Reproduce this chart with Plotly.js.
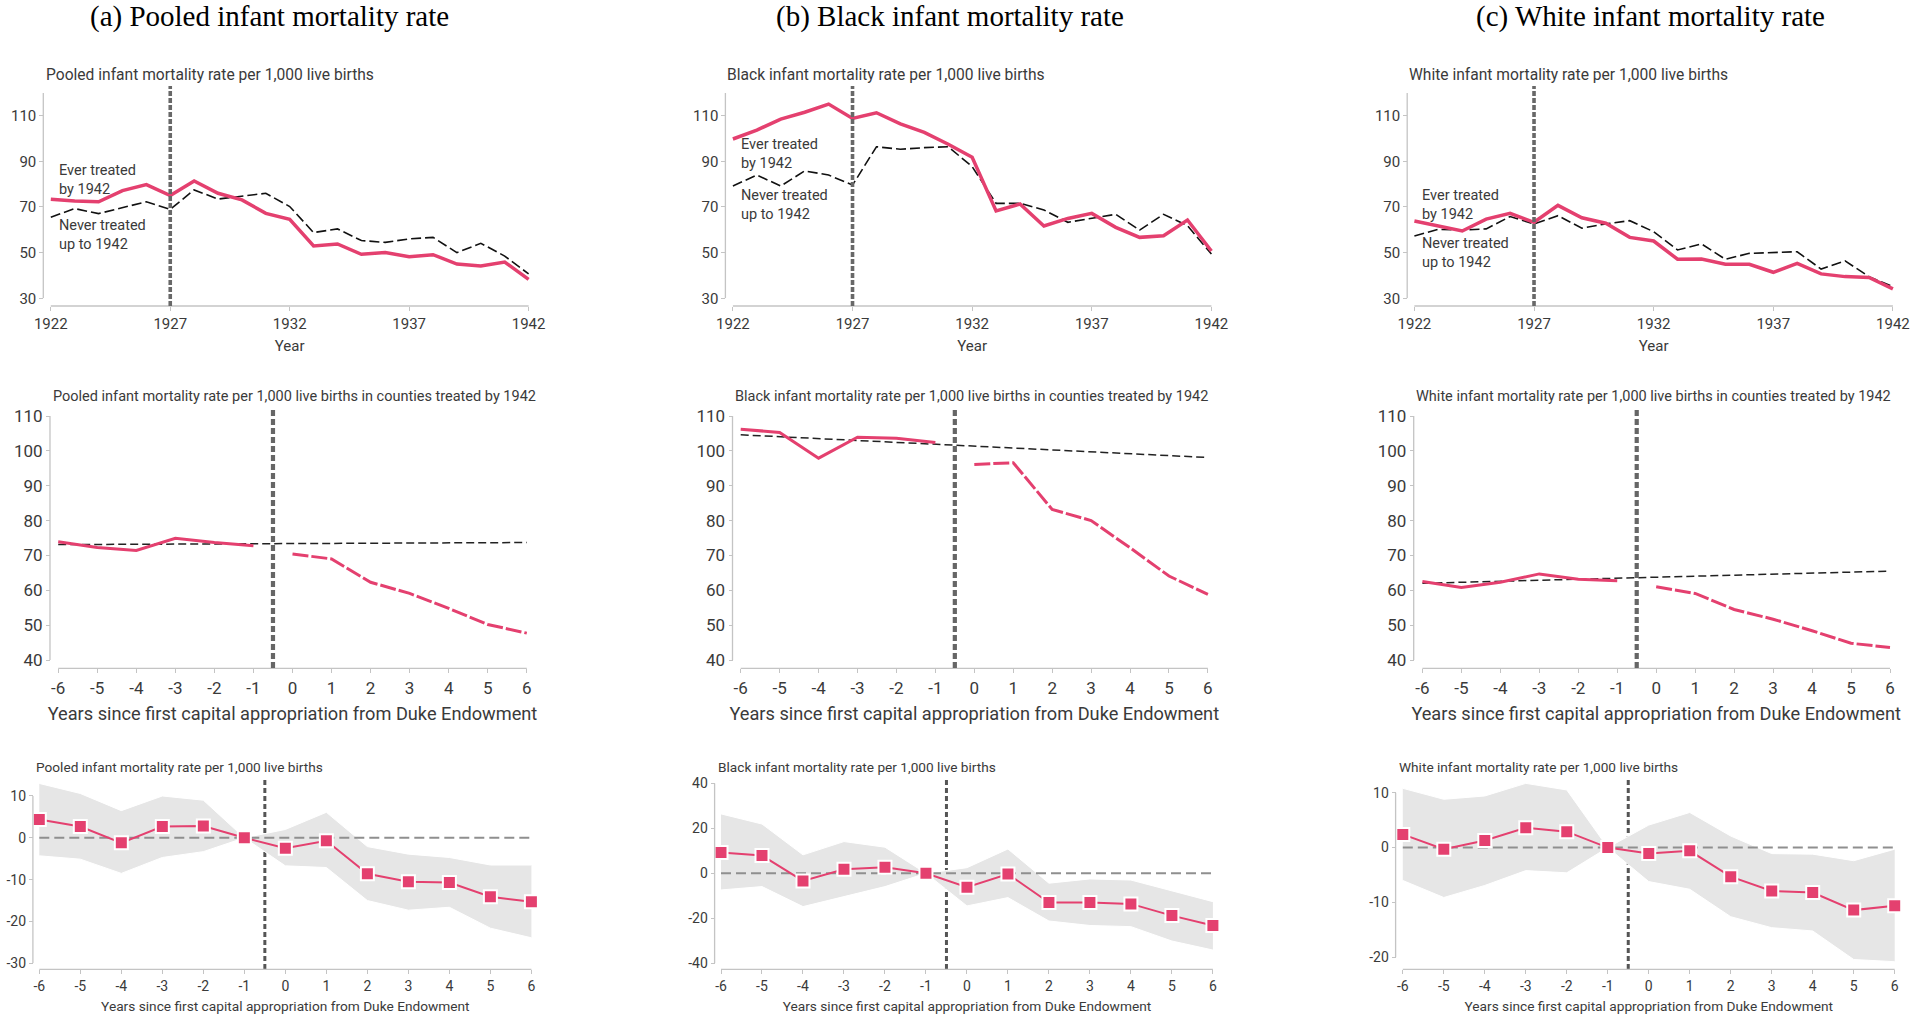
<!DOCTYPE html>
<html><head><meta charset="utf-8">
<script src="https://cdn.plot.ly/plotly-3.0.1.min.js"></script>
<style>html,body{margin:0;padding:0;background:#fff;} #chart{width:1929px;height:1016px;}</style>
</head><body><div id="chart"></div>
<script>
// ---------------- DATA ----------------
const years = [1922,1923,1924,1925,1926,1927,1928,1929,1930,1931,1932,1933,1934,1935,1936,1937,1938,1939,1940,1941,1942];
const yearTicks = [1922,1927,1932,1937,1942];
const treatYear = 1927;

const pooledEver  = [73.4,72.6,72.3,77.2,79.8,75.0,81.4,76.0,73.1,67.2,64.6,52.9,53.8,49.3,50.1,48.2,49.1,45.0,44.2,45.9,38.3];
const pooledNever = [65.5,69.3,67.1,69.7,72.3,69.0,77.5,73.5,74.8,76.0,70.2,58.8,60.4,55.3,54.5,56.0,56.7,50.0,54.1,48.5,40.7];
const blackEver   = [99.8,103.7,108.5,111.5,115.1,108.8,111.3,106.4,102.7,97.5,91.8,68.3,71.3,61.7,65.0,67.2,61.1,56.7,57.4,64.3,50.7];
const blackNever  = [79.2,84.0,79.2,85.8,84.0,79.6,96.4,95.3,96.0,96.4,87.7,71.6,71.6,68.7,63.3,65.0,66.8,59.9,66.8,61.8,49.4];
const whiteEver   = [63.9,61.8,59.5,64.7,67.2,63.3,70.7,65.3,62.9,56.7,55.1,47.1,47.2,44.9,44.9,41.4,45.3,40.7,39.5,39.1,34.1];
const whiteNever  = [57.3,60.2,59.9,60.4,65.8,62.6,66.2,60.7,62.6,64.0,59.2,51.2,53.8,47.1,49.7,50.1,50.4,42.8,46.4,39.5,35.1];

const eventPre  = [-6,-5,-4,-3,-2,-1];
const eventPost = [0,1,2,3,4,5,6];
const eventAll  = [-6,-5,-4,-3,-2,-1,0,1,2,3,4,5,6];
const eventCut  = -0.5;
const trendX    = [-6, 6];

const pooledPre  = [73.9,72.3,71.4,74.9,73.7,72.8];
const pooledPost = [70.4,69.0,62.3,59.1,54.8,50.2,47.7];
const pooledTrend = [73.1,73.7];
const blackPre   = [106.2,105.3,97.9,103.9,103.6,102.4];
const blackPost  = [96.1,96.6,83.2,80.0,72.2,64.1,58.8];
const blackTrend = [104.6,98.1];
const whitePre   = [62.5,60.8,62.3,64.7,63.2,62.7];
const whitePost  = [61.0,59.1,54.5,51.7,48.4,44.8,43.6];
const whiteTrend = [62.0,65.5];

const pooledCoef = [4.4,2.7,-1.2,2.7,2.8,0,-2.5,-0.7,-8.6,-10.5,-10.7,-14.1,-15.3];
const pooledHi   = [13.0,10.6,6.5,10.0,9.0,0,2.0,6.1,-2.1,-3.9,-4.7,-6.5,-6.5];
const pooledLo   = [-4.3,-5.1,-8.5,-4.7,-3.3,0,-6.7,-7.1,-15.0,-17.3,-16.6,-21.6,-23.9];
const blackCoef  = [9.3,7.9,-3.4,1.8,2.7,0,-6.2,-0.3,-13.0,-13.0,-13.6,-18.8,-23.2];
const blackHi    = [26.4,21.9,8.2,14.1,11.6,0,2.5,10.8,-4.4,-2.5,-3.0,-7.7,-12.6];
const blackLo    = [-7.4,-5.9,-14.8,-10.4,-5.9,0,-14.5,-10.8,-21.2,-23.2,-23.7,-30.1,-34.1];
const whiteCoef  = [2.4,-0.3,1.3,3.6,2.9,0,-1.1,-0.6,-5.3,-7.9,-8.2,-11.4,-10.6];
const whiteHi    = [10.8,8.8,9.4,11.7,10.5,0,4.1,6.4,2.1,-1.1,-1.2,-2.4,-0.3];
const whiteLo    = [-6.0,-9.1,-6.9,-4.2,-4.6,0,-6.2,-7.6,-12.6,-14.6,-15.2,-20.4,-20.8];

const columnTitles = ['(a) Pooled infant mortality rate','(b) Black infant mortality rate','(c) White infant mortality rate'];
const groups = ['Pooled','Black','White'];
const everLabel = 'Ever treated<br>by 1942';
const neverLabel = 'Never treated<br>up to 1942';
const topTicks = [30,50,70,90,110];
const midTicks = [40,50,60,70,80,90,100,110];
const botTicksA = [-30,-20,-10,0,10];
const botTicksB = [-40,-20,0,20,40];
const botTicksC = [-20,-10,0,10];
const eventTitle = 'Years since first capital appropriation from Duke Endowment';

// ---------------- STYLE / LAYOUT ----------------
const W = 1929, H = 1016;
const PINK = '#e4406f';
const AX = '#c4c4c4';
const TXT = '#3a3a3a';
const FONT = 'Roboto, "Noto Sans", sans-serif';

function dom(v1, p1, v2, p2, lo, hi, isY) {
  const s = (p2 - p1) / (v2 - v1);
  const pl = p1 + (lo - v1) * s, ph = p1 + (hi - v1) * s;
  return isY ? [1 - pl / H, 1 - ph / H] : [pl / W, ph / W];
}

const topSub = ' infant mortality rate per 1,000 live births';
const midSub = ' infant mortality rate per 1,000 live births in counties treated by 1942';

const panels = [
  {xv:[1922,50.8,1942,528.6],   yv:[110,115.7,30,298.3], xr:[1921.6,1942.4], yr:[30,120], yLine:[30,120], xLineV:[1922,1942], yPos:43.3,  xPos:306,   cut:treatYear, cutPx:[86,306],   xt:yearTicks, yt:topTicks, tf:15, title:'Year', titleSize:15, sub:groups[0]+topSub, subX:44, subY:75, subSize:15.6},
  {xv:[1922,732.9,1942,1211.4], yv:[110,115.7,30,298.3], xr:[1921.6,1942.4], yr:[30,120], yLine:[30,120], xLineV:[1922,1942], yPos:725.4, xPos:306,   cut:treatYear, cutPx:[86,306],   xt:yearTicks, yt:topTicks, tf:15, title:'Year', titleSize:15, sub:groups[1]+topSub, subX:725, subY:75, subSize:15.6},
  {xv:[1922,1414.4,1942,1892.9],yv:[110,115.7,30,298.3], xr:[1921.6,1942.4], yr:[30,120], yLine:[30,120], xLineV:[1922,1942], yPos:1407.2,xPos:306,   cut:treatYear, cutPx:[86,306],   xt:yearTicks, yt:topTicks, tf:15, title:'Year', titleSize:15, sub:groups[2]+topSub, subX:1407, subY:75, subSize:15.6},
  {xv:[-6,58.2,6,526.8],   yv:[110,416,40,660], xr:[-6.3,6.3], yr:[40,110], yLine:[40,110], xLineV:[-6,6], yPos:50,    xPos:668.3, cut:eventCut, cutPx:[408,668], xt:eventAll, yt:midTicks, tf:17, title:eventTitle, titleSize:18.2, sub:groups[0]+midSub, subX:50.5, subY:396.7, subSize:14.5},
  {xv:[-6,740.7,6,1207.9], yv:[110,416,40,660], xr:[-6.3,6.3], yr:[40,110], yLine:[40,110], xLineV:[-6,6], yPos:732.5, xPos:668.3, cut:eventCut, cutPx:[408,668], xt:eventAll, yt:midTicks, tf:17, title:eventTitle, titleSize:18.2, sub:groups[1]+midSub, subX:733, subY:396.7, subSize:14.5},
  {xv:[-6,1422.4,6,1890],  yv:[110,416,40,660], xr:[-6.3,6.3], yr:[40,110], yLine:[40,110], xLineV:[-6,6], yPos:1413.7,xPos:668.3, cut:eventCut, cutPx:[408,668], xt:eventAll, yt:midTicks, tf:17, title:eventTitle, titleSize:18.2, sub:groups[2]+midSub, subX:1414, subY:396.7, subSize:14.5},
  {xv:[-6,39.3,6,531.4],   yv:[10,796,-30,963.3],   xr:[-6.4,6.4], yr:[-30,14.5], yLine:[-30,10], xLineV:[-6,6], yPos:32.9,  xPos:969.3, cut:eventCut, cutPx:[777,969], xt:eventAll, yt:botTicksA, tf:14, title:eventTitle, titleSize:13.7, sub:groups[0]+topSub, subX:34, subY:766.7, subSize:13.65, below:true},
  {xv:[-6,721,6,1212.9],   yv:[40,783.3,-40,963.3], xr:[-6.4,6.4], yr:[-40,40],   yLine:[-40,40], xLineV:[-6,6], yPos:714.6, xPos:969.3, cut:eventCut, cutPx:[778,969], xt:eventAll, yt:botTicksB, tf:14, title:eventTitle, titleSize:13.7, sub:groups[1]+topSub, subX:715.5, subY:766.7, subSize:13.65, below:true},
  {xv:[-6,1402.8,6,1894.7],yv:[10,792.7,-20,957.3], xr:[-6.4,6.4], yr:[-21.5,12.5],yLine:[-20,10], xLineV:[-6,6], yPos:1395.6,xPos:969.3, cut:eventCut, cutPx:[777,969], xt:eventAll, yt:botTicksC, tf:14, title:eventTitle, titleSize:13.7, sub:groups[2]+topSub, subX:1396.5, subY:766.7, subSize:13.65, below:true}
];

const layout = {
  width: W, height: H,
  margin: {l:0, r:0, t:0, b:0},
  paper_bgcolor: '#ffffff',
  plot_bgcolor: 'rgba(0,0,0,0)',
  showlegend: false,
  font: {family: FONT, color: TXT},
  shapes: [], annotations: []
};

panels.forEach((p, i) => {
  const n = i + 1, sfx = n === 1 ? '' : String(n);
  const xa = 'x' + sfx, ya = 'y' + sfx;
  const standoff = p.tf === 17 ? 10 : 8;
  layout['xaxis' + sfx] = {
    domain: dom(p.xv[0], p.xv[1], p.xv[2], p.xv[3], p.xr[0], p.xr[1], false),
    range: p.xr, anchor: 'free', position: 1 - p.xPos / H,
    tickvals: p.xt, ticktext: p.xt.map(String), ticks: 'outside', ticklen: 4, tickwidth: 1, tickcolor: AX,
    showline: false, showgrid: false, zeroline: false, automargin: false, fixedrange: true,
    tickfont: {family: FONT, size: p.tf, color: TXT},
    title: {text: p.title, font: {family: FONT, size: p.titleSize, color: TXT}, standoff: standoff}
  };
  layout['yaxis' + sfx] = {
    domain: dom(p.yv[0], p.yv[1], p.yv[2], p.yv[3], p.yr[0], p.yr[1], true),
    range: p.yr, anchor: 'free', position: p.yPos / W,
    tickvals: p.yt, ticktext: p.yt.map(String), ticks: 'outside', ticklen: 4, tickwidth: 1, tickcolor: AX,
    showline: false, showgrid: false, zeroline: false, automargin: false, fixedrange: true,
    tickfont: {family: FONT, size: p.tf, color: TXT}
  };
  // axis lines
  layout.shapes.push({type:'line', xref:'paper', yref:ya, x0:p.yPos/W, x1:p.yPos/W, y0:p.yLine[0], y1:p.yLine[1], line:{color:AX, width:1.3}});
  layout.shapes.push({type:'line', xref:xa, yref:'paper', x0:p.xLineV[0], x1:p.xLineV[1], y0:1-p.xPos/H, y1:1-p.xPos/H, line:{color:AX, width:1.3}});
  // treatment line
  const row = Math.floor(i / 3);
  const cutStyle = row === 0 ? {color:'#686868', width:3.6, dash:'5px,2px'} : row === 1 ? {color:'#666666', width:4.2, dash:'6px,3px'} : {color:'#555555', width:3, dash:'5px,3px'};
  layout.shapes.push({type:'line', xref:xa, yref:'paper', x0:p.cut, x1:p.cut, y0:1-p.cutPx[1]/H, y1:1-p.cutPx[0]/H, line:cutStyle, layer: p.below ? 'below' : 'above'});
  // subtitle
  layout.annotations.push({text:p.sub, xref:'paper', yref:'paper', x:p.subX/W, y:1-p.subY/H, xanchor:'left', yanchor:'middle', showarrow:false, font:{family:FONT, size:p.subSize, color:TXT}});
});

// column titles
[269, 950, 1650].forEach((cx, k) => {
  layout.annotations.push({text:columnTitles[k], xref:'paper', yref:'paper', x:cx/W, y:1-17/H, xanchor:'center', yanchor:'middle', showarrow:false, font:{family:'"Liberation Serif", "Times New Roman", serif', size:29, color:'#000'}});
});

// line labels in top row (data coords, centre of each two-line block)
const labelPos = [
  {ever:82.0, never:57.9},
  {ever:93.1, never:71.0},
  {ever:71.0, never:50.0}
];
labelPos.forEach((lp, k) => {
  const sfx = k === 0 ? '' : String(k + 1);
  [[everLabel, lp.ever], [neverLabel, lp.never]].forEach(([t, yv]) => layout.annotations.push({text:t, xref:'x'+sfx, yref:'y'+sfx, x:1922.25, y:yv, xanchor:'left', yanchor:'middle', align:'left', showarrow:false, font:{family:FONT, size:14.5, color:TXT}}));
});

// ---------------- TRACES ----------------
const traces = [];
const topSeries = [[pooledEver, pooledNever], [blackEver, blackNever], [whiteEver, whiteNever]];
topSeries.forEach(([ever, never], k) => {
  const sfx = k === 0 ? '' : String(k + 1);
  traces.push({x: years, y: never, xaxis:'x'+sfx, yaxis:'y'+sfx, mode:'lines', line:{color:'#111111', width:1.6, dash:'10px,4px'}, hoverinfo:'skip'});
  traces.push({x: years, y: ever, xaxis:'x'+sfx, yaxis:'y'+sfx, mode:'lines', line:{color:PINK, width:3.5}, hoverinfo:'skip'});
});

const midSeries = [[pooledPre, pooledPost, pooledTrend], [blackPre, blackPost, blackTrend], [whitePre, whitePost, whiteTrend]];
midSeries.forEach(([pre, post, trend], k) => {
  const sfx = String(k + 4);
  traces.push({x: trendX, y: trend, xaxis:'x'+sfx, yaxis:'y'+sfx, mode:'lines', line:{color:'#222222', width:1.5, dash:'8px,4px'}, hoverinfo:'skip'});
  traces.push({x: eventPre, y: pre, xaxis:'x'+sfx, yaxis:'y'+sfx, mode:'lines', line:{color:PINK, width:3}, hoverinfo:'skip'});
  traces.push({x: eventPost, y: post, xaxis:'x'+sfx, yaxis:'y'+sfx, mode:'lines', line:{color:PINK, width:3, dash:'16px,3px'}, hoverinfo:'skip'});
});

const botSeries = [[pooledCoef, pooledHi, pooledLo], [blackCoef, blackHi, blackLo], [whiteCoef, whiteHi, whiteLo]];
botSeries.forEach(([coef, hi, lo], k) => {
  const sfx = String(k + 7);
  traces.push({x: eventAll, y: lo, xaxis:'x'+sfx, yaxis:'y'+sfx, mode:'lines', line:{color:'#ffffff', width:1}, hoverinfo:'skip'});
  traces.push({x: eventAll, y: hi, xaxis:'x'+sfx, yaxis:'y'+sfx, mode:'lines', fill:'tonexty', fillcolor:'#e6e6e6', line:{color:'#ffffff', width:1}, hoverinfo:'skip'});
  traces.push({x: [eventAll[0], eventAll[eventAll.length-1]], y: [0, 0], xaxis:'x'+sfx, yaxis:'y'+sfx, mode:'lines', line:{color:'#8f8f8f', width:2, dash:'10px,5px'}, hoverinfo:'skip'});
  traces.push({x: eventAll, y: coef, xaxis:'x'+sfx, yaxis:'y'+sfx, mode:'lines+markers', cliponaxis:false, line:{color:PINK, width:2}, marker:{symbol:'square', size:13, color:PINK, line:{color:'#ffffff', width:2}}, hoverinfo:'skip'});
});

Plotly.newPlot('chart', traces, layout, {displayModeBar:false, staticPlot:true});
</script>
</body></html>
